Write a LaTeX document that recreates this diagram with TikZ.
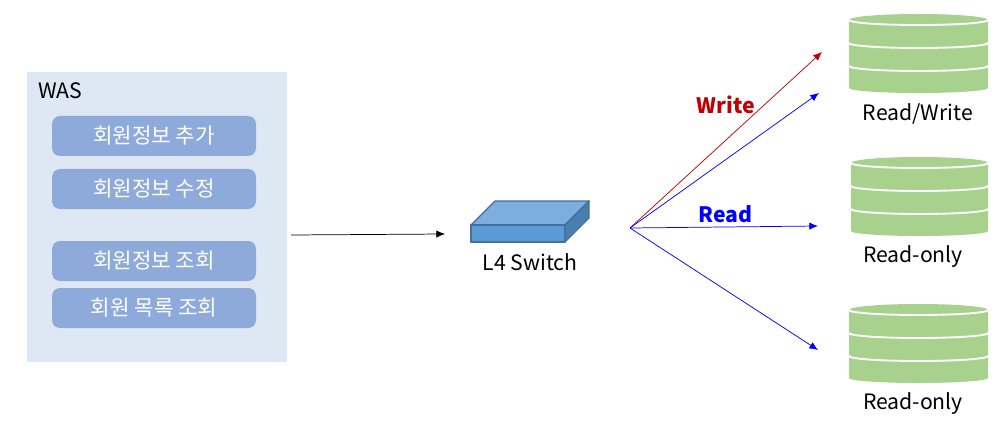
\documentclass[tikz,border=0pt]{standalone}
\usepackage{fontspec}
\setmainfont{Noto Sans CJK KR}
\definecolor{wasbg}{HTML}{DEE8F4}
\definecolor{btn}{HTML}{8EAADB}
\definecolor{dbgreen}{HTML}{A9D18E}
\definecolor{swfront}{HTML}{5B9BD5}
\definecolor{swtop}{HTML}{7CAEDE}
\definecolor{swside}{HTML}{4A7EAE}
\definecolor{swline}{HTML}{41719C}
\definecolor{wred}{HTML}{C00000}
\usetikzlibrary{arrows.meta}
\tikzset{
  x=0.75pt,y=-0.75pt,
  btnbox/.style={fill=btn,rounded corners=6pt,minimum width=153pt,minimum height=30pt,inner sep=0pt,text=white,font=\fontsize{15.9}{18}\selectfont},
  lbl/.style={inner sep=0pt,text=black,font=\fontsize{15.9}{18}\selectfont},
  conn/.style={line width=0.55pt,-{Latex[length=6.5pt,width=5.5pt]}},
  dbrim/.style={draw=white,line width=1.4pt}
}
\newcommand{\dbcyl}[3]{% left, right, top
  \fill[dbgreen] (#1,#3+6) arc[start angle=180,end angle=360,x radius={(#2-#1)/2},y radius=6]
    -- (#2,#3+74) arc[start angle=0,end angle=180,x radius={(#2-#1)/2},y radius=5]-- cycle;
  \draw[dbrim] (#1,#3+6) arc[start angle=180,end angle=0,x radius={(#2-#1)/2},y radius=5];
  \draw[dbrim] (#1,#3+29) arc[start angle=180,end angle=0,x radius={(#2-#1)/2},y radius=5];
  \draw[dbrim] (#1,#3+52) arc[start angle=180,end angle=0,x radius={(#2-#1)/2},y radius=5];
}
\begin{document}
\begin{tikzpicture}
\useasboundingbox (0,0) rectangle (1008,435);
% WAS panel
\node[fill=wasbg,minimum width=195pt,minimum height=217.5pt,inner sep=0pt,anchor=north west] (was) at (27,72) {};
\node[lbl,anchor=base west] (waslbl) at (38,99) {WAS};
\node[btnbox] (b1) at (154,136) {\raisebox{-1pt}{회원정보 추가}};
\node[btnbox] (b2) at (154,189) {\raisebox{-1pt}{회원정보 수정}};
\node[btnbox] (b3) at (154,261) {\raisebox{-1pt}{회원정보 조회}};
\node[btnbox] (b4) at (154,308) {\raisebox{-1pt}{회원 목록 조회}};
% switch
\draw[swline,line width=1pt,fill=swtop,line join=round] (471,225) -- (495,201) -- (589,201) -- (565,225) -- cycle;
\draw[swline,line width=1pt,fill=swfront,line join=round] (471,225) rectangle (565,242);
\draw[swline,line width=1pt,fill=swside,line join=round] (565,225) -- (589,201) -- (589,218) -- (565,242) -- cycle;
\coordinate (swin) at (445,234);
\coordinate (wasout) at (291,235);
\coordinate (hub) at (630,228);
\node[lbl] (swlbl) at (530,262.5) {L4 Switch};
% databases
\dbcyl{849}{988}{14}
\dbcyl{851}{988}{157}
\dbcyl{849}{988}{304}
\node[lbl] (l1) at (918,113.5) {Read/Write};
\node[lbl] (l2) at (913,257) {Read-only};
\node[lbl] (l3) at (913,404) {Read-only};
\coordinate (d1w) at (822,52);
\coordinate (d1r) at (819,93);
\coordinate (d2r) at (818,226);
\coordinate (d3r) at (818,350);
% connectors
\draw[conn,black] (wasout) -- (swin);
\draw[conn,wred] (hub) -- (d1w);
\draw[conn,blue] (hub) -- (d1r);
\draw[conn,blue] (hub) -- (d2r);
\draw[conn,blue] (hub) -- (d3r);
\node[inner sep=0pt,text=wred,font=\fontsize{15.9}{18}\selectfont\bfseries] (wr) at (726,105) {Write};
\node[inner sep=0pt,text=blue,font=\fontsize{15.9}{18}\selectfont\bfseries] (rd) at (725.5,214) {Read};
\end{tikzpicture}
\end{document}
